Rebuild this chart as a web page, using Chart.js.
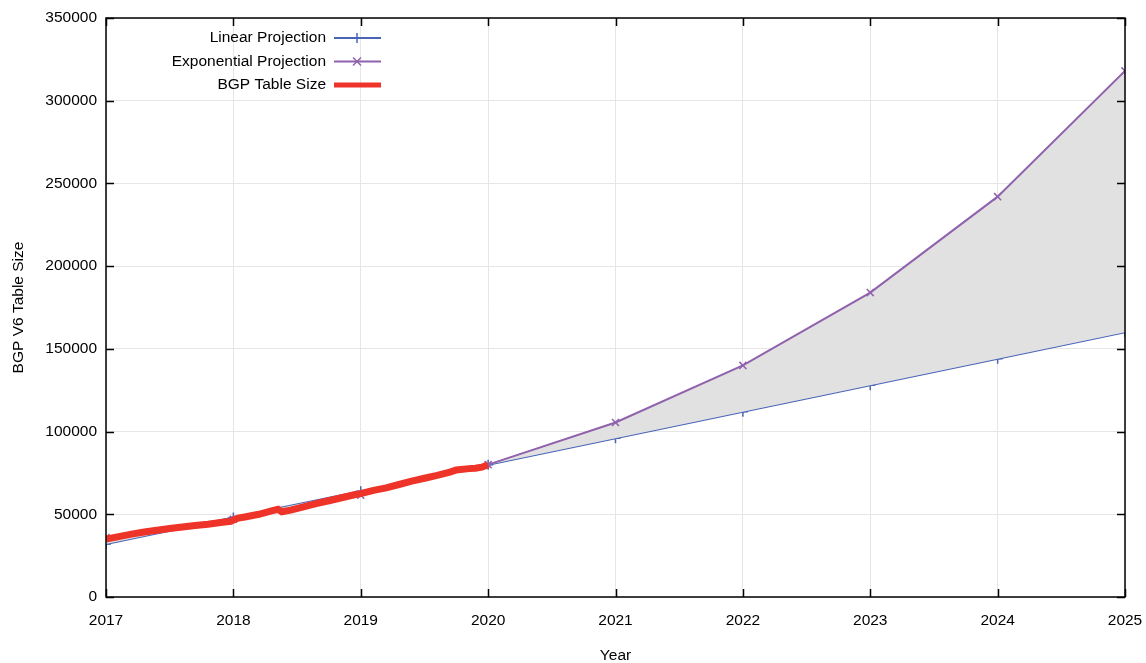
<!DOCTYPE html>
<html>
<head>
<meta charset="utf-8">
<script src="https://cdn.jsdelivr.net/npm/chart.js@4.4.1/dist/chart.umd.min.js"></script>
<style>
  html, body { margin: 0; padding: 0; background: #fff; }
  #wrap { width: 1146px; height: 663px; position: relative; }
</style>
</head>
<body>
<div id="wrap"><canvas id="bgpChart"></canvas></div>
<script>
// projection years
const years = [2017, 2018, 2019, 2020, 2021, 2022, 2023, 2024, 2025];
const linearValues = [32000, 48000, 64000, 80000, 96000, 112000, 128000, 144000, 160000];
const expValues = [36000, 47000, 61500, 80000, 105500, 140000, 184000, 242000, 318000];

const bgpYears = [2017.00, 2017.10, 2017.20, 2017.30, 2017.40, 2017.50, 2017.60, 2017.70, 2017.80, 2017.90,
    2017.98, 2018.03, 2018.10, 2018.20, 2018.30, 2018.35, 2018.38, 2018.45, 2018.55, 2018.65,
    2018.75, 2018.85, 2018.95, 2019.00, 2019.10, 2019.20, 2019.30, 2019.40, 2019.50, 2019.60,
    2019.70, 2019.75, 2019.85, 2019.90, 2019.95, 2020.00];
const bgpValues = [35000, 36500, 38000, 39300, 40300, 41400, 42300, 43200, 44000, 45000,
    45800, 47500, 48500, 50000, 52000, 53000, 51500, 52500, 54500, 56500,
    58200, 60000, 61800, 62500, 64500, 66000, 68000, 70000, 71800, 73500,
    75500, 76800, 77600, 77800, 78500, 80000];

const xTicks = [2017, 2018, 2019, 2020, 2021, 2022, 2023, 2024, 2025];
const yTicks = [0, 50000, 100000, 150000, 200000, 250000, 300000, 350000];

const FONT = '"Liberation Sans", Arial, sans-serif';
const BLUE = '#4a64b8';
const PURPLE = '#9062ad';
const RED = '#ee3329';

const legendItems = [
    { label: 'Linear Projection', color: BLUE, width: 2, mark: 'plus' },
    { label: 'Exponential Projection', color: PURPLE, width: 2, mark: 'cross' },
    { label: 'BGP Table Size', color: RED, width: 5, mark: null }
];

const pts = (xs, ys) => xs.map((x, i) => ({ x: x, y: ys[i] }));

// box round the plot with inward ticks on all sides, gnuplot style
const framePlugin = {
    id: 'frame',
    afterDatasetsDraw(chart) {
        const { ctx, chartArea: a, scales: { x, y } } = chart;
        ctx.save();
        ctx.strokeStyle = '#000';
        ctx.lineWidth = 1.5;
        ctx.beginPath();
        xTicks.forEach(v => {
            const px = Math.round(x.getPixelForValue(v)) + 0.5;
            ctx.moveTo(px, a.bottom); ctx.lineTo(px, a.bottom - 8);
            ctx.moveTo(px, a.top); ctx.lineTo(px, a.top + 8);
        });
        yTicks.forEach(v => {
            const py = Math.round(y.getPixelForValue(v)) + 0.5;
            ctx.moveTo(a.left, py); ctx.lineTo(a.left + 8, py);
            ctx.moveTo(a.right, py); ctx.lineTo(a.right - 8, py);
        });
        ctx.stroke();
        ctx.strokeRect(a.left, a.top, a.right - a.left, a.bottom - a.top);

        // legend: text then sample, top left inside the plot
        ctx.font = '15.5px ' + FONT;
        ctx.textAlign = 'right';
        ctx.textBaseline = 'middle';
        legendItems.forEach((it, i) => {
            const ly = 38 + i * 23.5;
            ctx.fillStyle = '#000';
            ctx.fillText(it.label, 326, ly);
            ctx.strokeStyle = it.color;
            ctx.lineWidth = it.width;
            ctx.beginPath();
            ctx.moveTo(334, ly); ctx.lineTo(381, ly);
            ctx.stroke();
            ctx.lineWidth = 1.5;
            ctx.beginPath();
            if (it.mark === 'plus') {
                ctx.moveTo(357, ly - 5); ctx.lineTo(357, ly + 5);
            } else if (it.mark === 'cross') {
                ctx.moveTo(353, ly - 4); ctx.lineTo(361, ly + 4);
                ctx.moveTo(361, ly - 4); ctx.lineTo(353, ly + 4);
            }
            ctx.stroke();
        });
        ctx.restore();
    }
};

new Chart(document.getElementById('bgpChart'), {
    type: 'line',
    data: {
        datasets: [{
            label: 'BGP Table Size',
            data: pts(bgpYears, bgpValues),
            borderColor: RED,
            borderWidth: 7,
            pointRadius: 0,
            fill: false,
            order: 0
        }, {
            label: 'Linear Projection',
            data: pts(years, linearValues),
            borderColor: BLUE,
            borderWidth: 2,
            pointStyle: 'cross',
            pointRadius: 5,
            pointBorderColor: BLUE,
            pointBorderWidth: 1.5,
            fill: false,
            order: 2
        }, {
            label: 'Exponential Projection',
            data: pts(years, expValues),
            borderColor: PURPLE,
            borderWidth: 2,
            pointStyle: 'crossRot',
            pointRadius: 5,
            pointBorderColor: PURPLE,
            pointBorderWidth: 1.5,
            fill: { target: 1 },
            backgroundColor: '#e1e1e1',
            order: 1
        }]
    },
    options: {
        responsive: true,
        maintainAspectRatio: false,
        animation: false,
        layout: { padding: { top: 18, right: 21, bottom: 0, left: 0 } },
        plugins: { legend: { display: false }, tooltip: { enabled: false } },
        scales: {
            x: {
                type: 'linear',
                min: 2017,
                max: 2025,
                afterBuildTicks: s => { s.ticks = xTicks.map(v => ({ value: v })); },
                afterFit: s => { s.height = 66; s.paddingLeft = 0; s.paddingRight = 0; },
                ticks: {
                    color: '#000',
                    font: { family: FONT, size: 15.5 },
                    padding: 14,
                    maxRotation: 0,
                    callback: v => String(v)
                },
                grid: { color: '#e6e6e6', drawTicks: false },
                border: { display: false },
                title: {
                    display: true,
                    text: 'Year',
                    color: '#000',
                    font: { family: FONT, size: 15.5 },
                    padding: { top: 0, bottom: -2 }
                }
            },
            y: {
                min: 0,
                max: 350000,
                afterBuildTicks: s => { s.ticks = yTicks.map(v => ({ value: v })); },
                afterFit: s => { s.width = 106; s.paddingTop = 0; s.paddingBottom = 0; },
                ticks: {
                    color: '#000',
                    font: { family: FONT, size: 15.5 },
                    padding: 9,
                    callback: v => String(v)
                },
                grid: { color: '#e6e6e6', drawTicks: false },
                border: { display: false },
                title: {
                    display: true,
                    text: 'BGP V6 Table Size',
                    color: '#000',
                    font: { family: FONT, size: 15.5 },
                    padding: { top: 9, bottom: 0 }
                }
            }
        }
    },
    plugins: [framePlugin]
});
</script>
</body>
</html>
